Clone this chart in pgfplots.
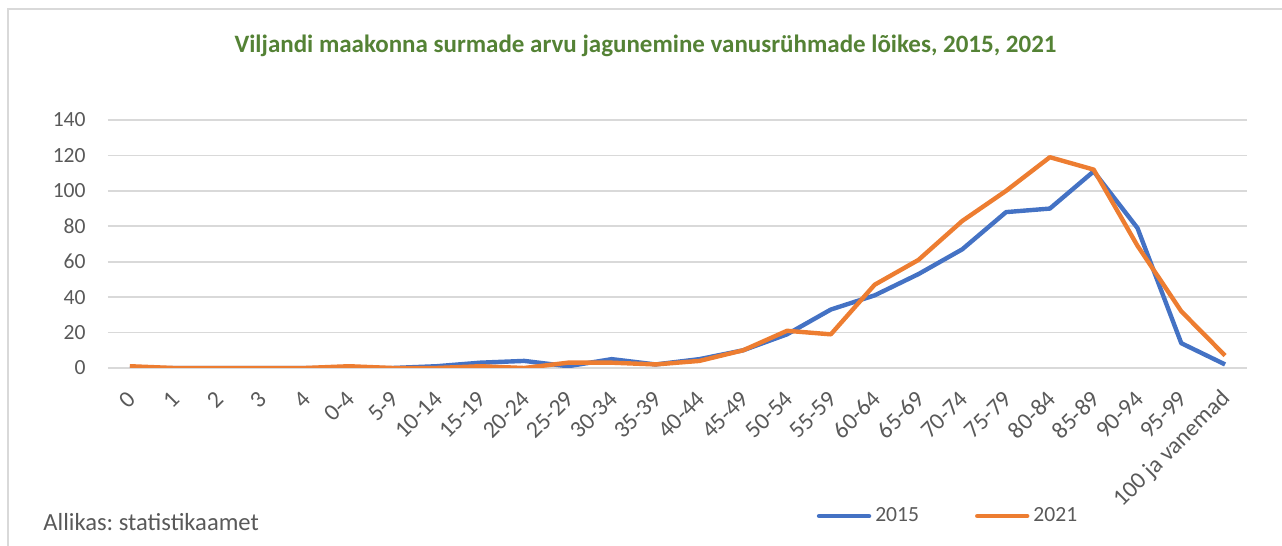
\documentclass[border=0pt]{standalone}
\usepackage{pgfplots}
\pgfplotsset{compat=1.18}
\usepackage{fontspec}
\setmainfont{Carlito}
\frenchspacing
\definecolor{cblue}{HTML}{4472C4}
\definecolor{corange}{HTML}{ED7D31}
\definecolor{cgrid}{HTML}{D9D9D9}
\definecolor{ctext}{HTML}{595959}
\definecolor{ctitle}{HTML}{548235}
\begin{document}
\begin{tikzpicture}
\useasboundingbox (0,0) rectangle (641pt,273pt);
\draw[cgrid, line width=0.8pt] (4pt,0pt) -- (4pt,268.5pt) -- (645pt,268.5pt);
\begin{axis}[
  at={(54pt,89pt)}, anchor=south west,
  scale only axis, width=569.5pt, height=124pt,
  xmin=-0.5, xmax=25.5, ymin=0, ymax=140,
  xtick={0,...,25},
  xticklabels={0,1,2,3,4,0-4,5-9,10-14,15-19,20-24,25-29,30-34,35-39,40-44,45-49,50-54,55-59,60-64,65-69,70-74,75-79,80-84,85-89,90-94,95-99,100 ja vanemad},
  ytick={0,20,...,140},
  ymajorgrids, major grid style={cgrid, line width=0.8pt},
  axis line style={draw=none},
  major tick length=0pt,
  /pgf/number format/assume math mode=true,
  tick label style={font=\fontsize{10.8}{13}\selectfont, text=ctext},
  yticklabel style={anchor=east, inner sep=0pt, xshift=-11pt},
  xticklabel style={font=\fontsize{11.9}{14}\selectfont, rotate=45, anchor=east, inner sep=0pt, xshift=-8.8pt, yshift=-10.2pt},
  legend style={draw=none, fill=none, at={(0.7384,-0.597)}, anchor=center,
    font=\fontsize{10.8}{13}\selectfont, text=ctext, inner sep=0pt,
    /tikz/every even column/.append style={column sep=26pt}},
  legend columns=2,
  legend image code/.code={\draw[#1, line cap=round] (0pt,0pt) -- (25pt,0pt);},
  legend cell align=left,
]
\addplot[cblue, line width=2.2pt, line join=round] coordinates {
(0,0) (1,0) (2,0) (3,0) (4,0) (5,0) (6,0) (7,1) (8,3) (9,4) (10,1) (11,5) (12,2) (13,5)
(14,10) (15,19) (16,33) (17,41) (18,53) (19,67) (20,88) (21,90) (22,111) (23,79) (24,14) (25,2)};
\addlegendentry{2015}
\addplot[corange, line width=2.2pt, line join=round] coordinates {
(0,1) (1,0) (2,0) (3,0) (4,0) (5,1) (6,0) (7,0) (8,1) (9,0) (10,3) (11,3) (12,2) (13,4)
(14,10) (15,21) (16,19) (17,47) (18,61) (19,83) (20,100) (21,119) (22,112) (23,69) (24,32) (25,7)};
\addlegendentry{2021}
\end{axis}
\node[anchor=base, text=ctitle, font=\bfseries\fontsize{12.5}{15}\selectfont] at (322.75pt,246.5pt) {Viljandi maakonna surmade arvu jagunemine vanusrühmade lõikes, 2015, 2021};
\node[anchor=base west, inner sep=0pt, text=ctext, font=\fontsize{12.3}{14}\selectfont] at (21.5pt,7.6pt) {Allikas: statistikaamet};
\end{tikzpicture}
\end{document}
